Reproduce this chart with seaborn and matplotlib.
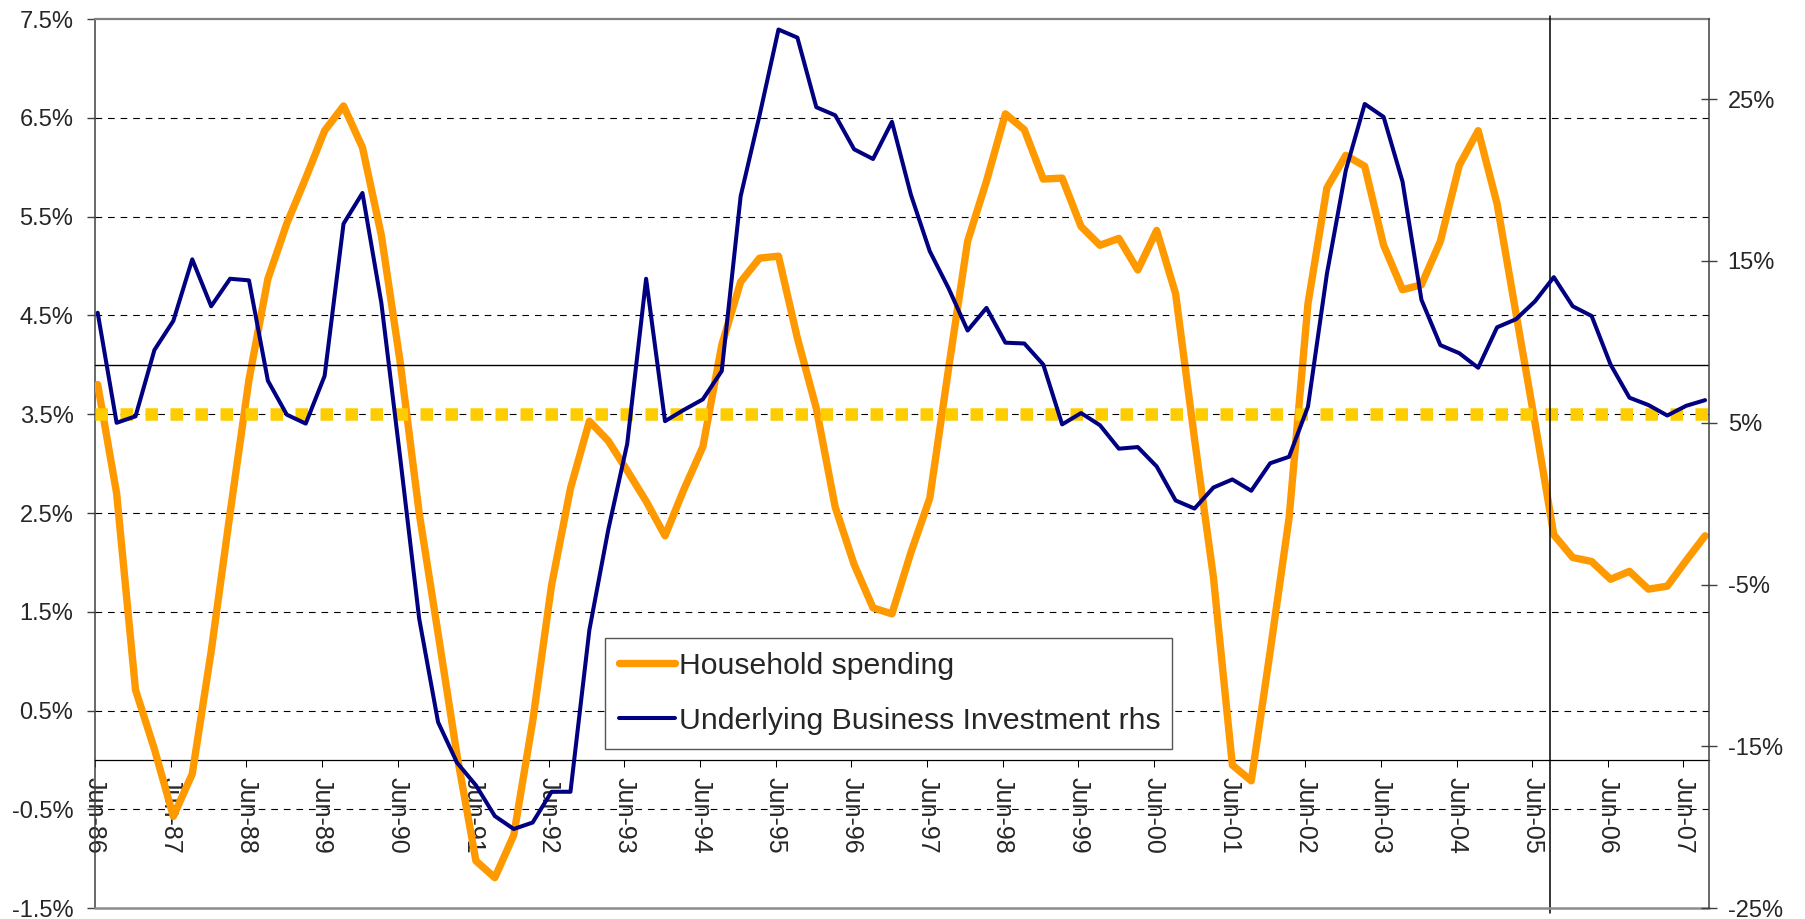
import numpy as np
import matplotlib
matplotlib.use("Agg")
import matplotlib.pyplot as plt
import seaborn as sns
from matplotlib.lines import Line2D
from matplotlib.ticker import FixedLocator, FuncFormatter

# ---------------- data (quarterly, Jun-86 .. Sep-07) ----------------
tick_labels = ["Jun-86", "Jun-87", "Jun-88", "Jun-89", "Jun-90", "Jun-91", "Jun-92",
               "Jun-93", "Jun-94", "Jun-95", "Jun-96", "Jun-97", "Jun-98", "Jun-99",
               "Jun-00", "Jun-01", "Jun-02", "Jun-03", "Jun-04", "Jun-05", "Jun-06",
               "Jun-07"]

household = [3.80, 2.70, 0.71, 0.11, -0.57, -0.14, 1.10, 2.50, 3.85, 4.87,
             5.43, 5.89, 6.37, 6.62, 6.20, 5.31, 4.02, 2.50, 1.28, 0.05,
             -1.02, -1.19, -0.76, 0.39, 1.77, 2.75, 3.43, 3.23, 2.93, 2.62,
             2.27, 2.74, 3.17, 4.20, 4.84, 5.08, 5.10, 4.27, 3.56, 2.56,
             1.98, 1.54, 1.48, 2.10, 2.65, 3.97, 5.25, 5.86, 6.54, 6.38,
             5.88, 5.89, 5.40, 5.21, 5.28, 4.96, 5.36, 4.72, 3.25, 1.85,
             -0.05, -0.21, 1.10, 2.45, 4.62, 5.79, 6.12, 6.01, 5.21, 4.76,
             4.81, 5.25, 6.02, 6.37, 5.63, 4.52, 3.42, 2.28, 2.05, 2.01,
             1.83, 1.91, 1.73, 1.76, 2.02, 2.27]

investment = [11.8, 5.0, 5.4, 9.5, 11.3, 15.1, 12.2, 13.9, 13.8, 7.6,
              5.5, 4.95, 7.9, 17.3, 19.2, 12.4, 2.8, -7.1, -13.5, -16.0,
              -17.4, -19.3, -20.1, -19.7, -17.8, -17.8, -7.8, -1.6, 3.7, 13.9,
              5.1, 5.8, 6.45, 8.2, 19.0, 24.0, 29.3, 28.8, 24.5, 24.0,
              21.9, 21.3, 23.6, 19.1, 15.6, 13.3, 10.7, 12.1, 9.95, 9.9,
              8.6, 4.9, 5.6, 4.85, 3.4, 3.5, 2.3, 0.2, -0.3, 1.0,
              1.5, 0.8, 2.5, 2.9, 6.0, 14.2, 20.6, 24.7, 23.9, 19.9,
              12.6, 9.8, 9.3, 8.4, 10.9, 11.4, 12.5, 14.0, 12.2, 11.6,
              8.6, 6.55, 6.1, 5.45, 6.05, 6.4]

household_average = 3.5      # yellow dotted reference
reference_level = 4.0        # solid black reference (lhs)
forecast_divider = 76.8      # vertical divider (quarter index)

series_names = ["Household spending", "Underlying Business Investment rhs"]

# ---------------- style ----------------
sns.set_style("white")
plt.rcParams["font.family"] = ["Liberation Sans", "DejaVu Sans"]
plt.rcParams["axes.unicode_minus"] = False

ORANGE = "#FF9900"
NAVY = "#000080"
GOLD = "#FFCC00"

fig = plt.figure(figsize=(18.05, 9.19), dpi=100)
ax = fig.add_axes([0.05263, 0.01164, 0.89391, 0.96768])
ax2 = ax.twinx()

x = np.arange(len(household))

# gridlines
for g in np.arange(-0.5, 7.0, 1.0):
    ax.axhline(g, color="black", lw=0.8, dashes=(6.0, 5.3), zorder=1)

sns.lineplot(x=x, y=household, ax=ax, color=ORANGE, linewidth=5.3,
             sort=False, legend=False, zorder=3,
             solid_joinstyle="round", solid_capstyle="round")

ax.axhline(household_average, color=GOLD, lw=9, dashes=(1, 1), zorder=4)
ax.axhline(reference_level, color="black", lw=1.0, zorder=5)

sns.lineplot(x=x, y=investment, ax=ax2, color=NAVY, linewidth=2.9,
             sort=False, legend=False, zorder=3,
             solid_joinstyle="round", solid_capstyle="round")

# vertical divider, slightly overshooting the frame
ax.plot([forecast_divider, forecast_divider], [-1.55, 7.535], color="black",
        lw=1.1, clip_on=False, zorder=6)

# ---------------- spines (before tick setup: set_position resets ticks) ----
ax.spines["bottom"].set_position(("data", 0))
ax.spines["bottom"].set_color("black")
ax.spines["bottom"].set_linewidth(0.9)
ax.spines["top"].set_color("#808080")
ax.spines["top"].set_linewidth(1.6)
ax.spines["left"].set_color("#404040")
ax.spines["left"].set_linewidth(1.1)
for s in ["top", "bottom", "left"]:
    ax2.spines[s].set_visible(False)
ax2.spines["right"].set_color("#404040")
ax2.spines["right"].set_linewidth(1.1)
ax.spines["right"].set_visible(False)
# lower frame border
ax.plot([0, 1], [0, 0], transform=ax.transAxes, color="#8c8c8c", lw=1.8,
        clip_on=False, zorder=7)

# ---------------- axes ----------------
ax.set_xlim(-0.143, 85.18)
ax.set_ylim(-1.5, 7.5)
ax2.set_ylim(-25, 29.95)

ax.set_xticks(np.arange(0, 86, 4) - 0.143)
ax.set_xticklabels(tick_labels)
ax.tick_params(axis="x", direction="out", length=5, width=0.75, color="black",
               pad=7.5, bottom=True, top=False, labelsize=18, labelrotation=-90)
for lab in ax.get_xticklabels():
    lab.set_horizontalalignment("center")
    lab.set_verticalalignment("top")

ax.yaxis.set_major_locator(FixedLocator(np.arange(-1.5, 7.6, 1.0)))
ax.yaxis.set_major_formatter(FuncFormatter(lambda v, p: f"{v:.1f}%"))
ax.tick_params(axis="y", direction="out", length=5.5, width=1.0, color="#404040",
               pad=10, labelsize=17, left=True)

ax2.yaxis.set_major_locator(FixedLocator([-25, -15, -5, 5, 15, 25]))
ax2.yaxis.set_major_formatter(FuncFormatter(lambda v, p: f"{v:.0f}%"))
ax2.tick_params(axis="y", direction="inout", length=11, width=1.0, color="#404040",
                pad=8.3, labelsize=17, right=True)

ax.set_xlabel("")
ax.set_ylabel("")
ax2.set_ylabel("")

# ---------------- legend ----------------
handles = [Line2D([], [], color=ORANGE, lw=5.3, solid_capstyle="round"),
           Line2D([], [], color=NAVY, lw=2.9, solid_capstyle="round")]
leg = ax2.legend(handles, series_names, loc="upper left",
                 bbox_to_anchor=(0.3159, 0.3045, 0.3514, 0), mode="expand",
                 borderaxespad=0, fontsize=21.7, frameon=True, fancybox=False,
                 framealpha=1, borderpad=0.48, labelspacing=0.88,
                 handlelength=1.85, handletextpad=0.15)
leg.get_frame().set_edgecolor("#555555")
leg.get_frame().set_linewidth(1.0)
leg.set_zorder(10)

fig.savefig("out.png", dpi=100)
